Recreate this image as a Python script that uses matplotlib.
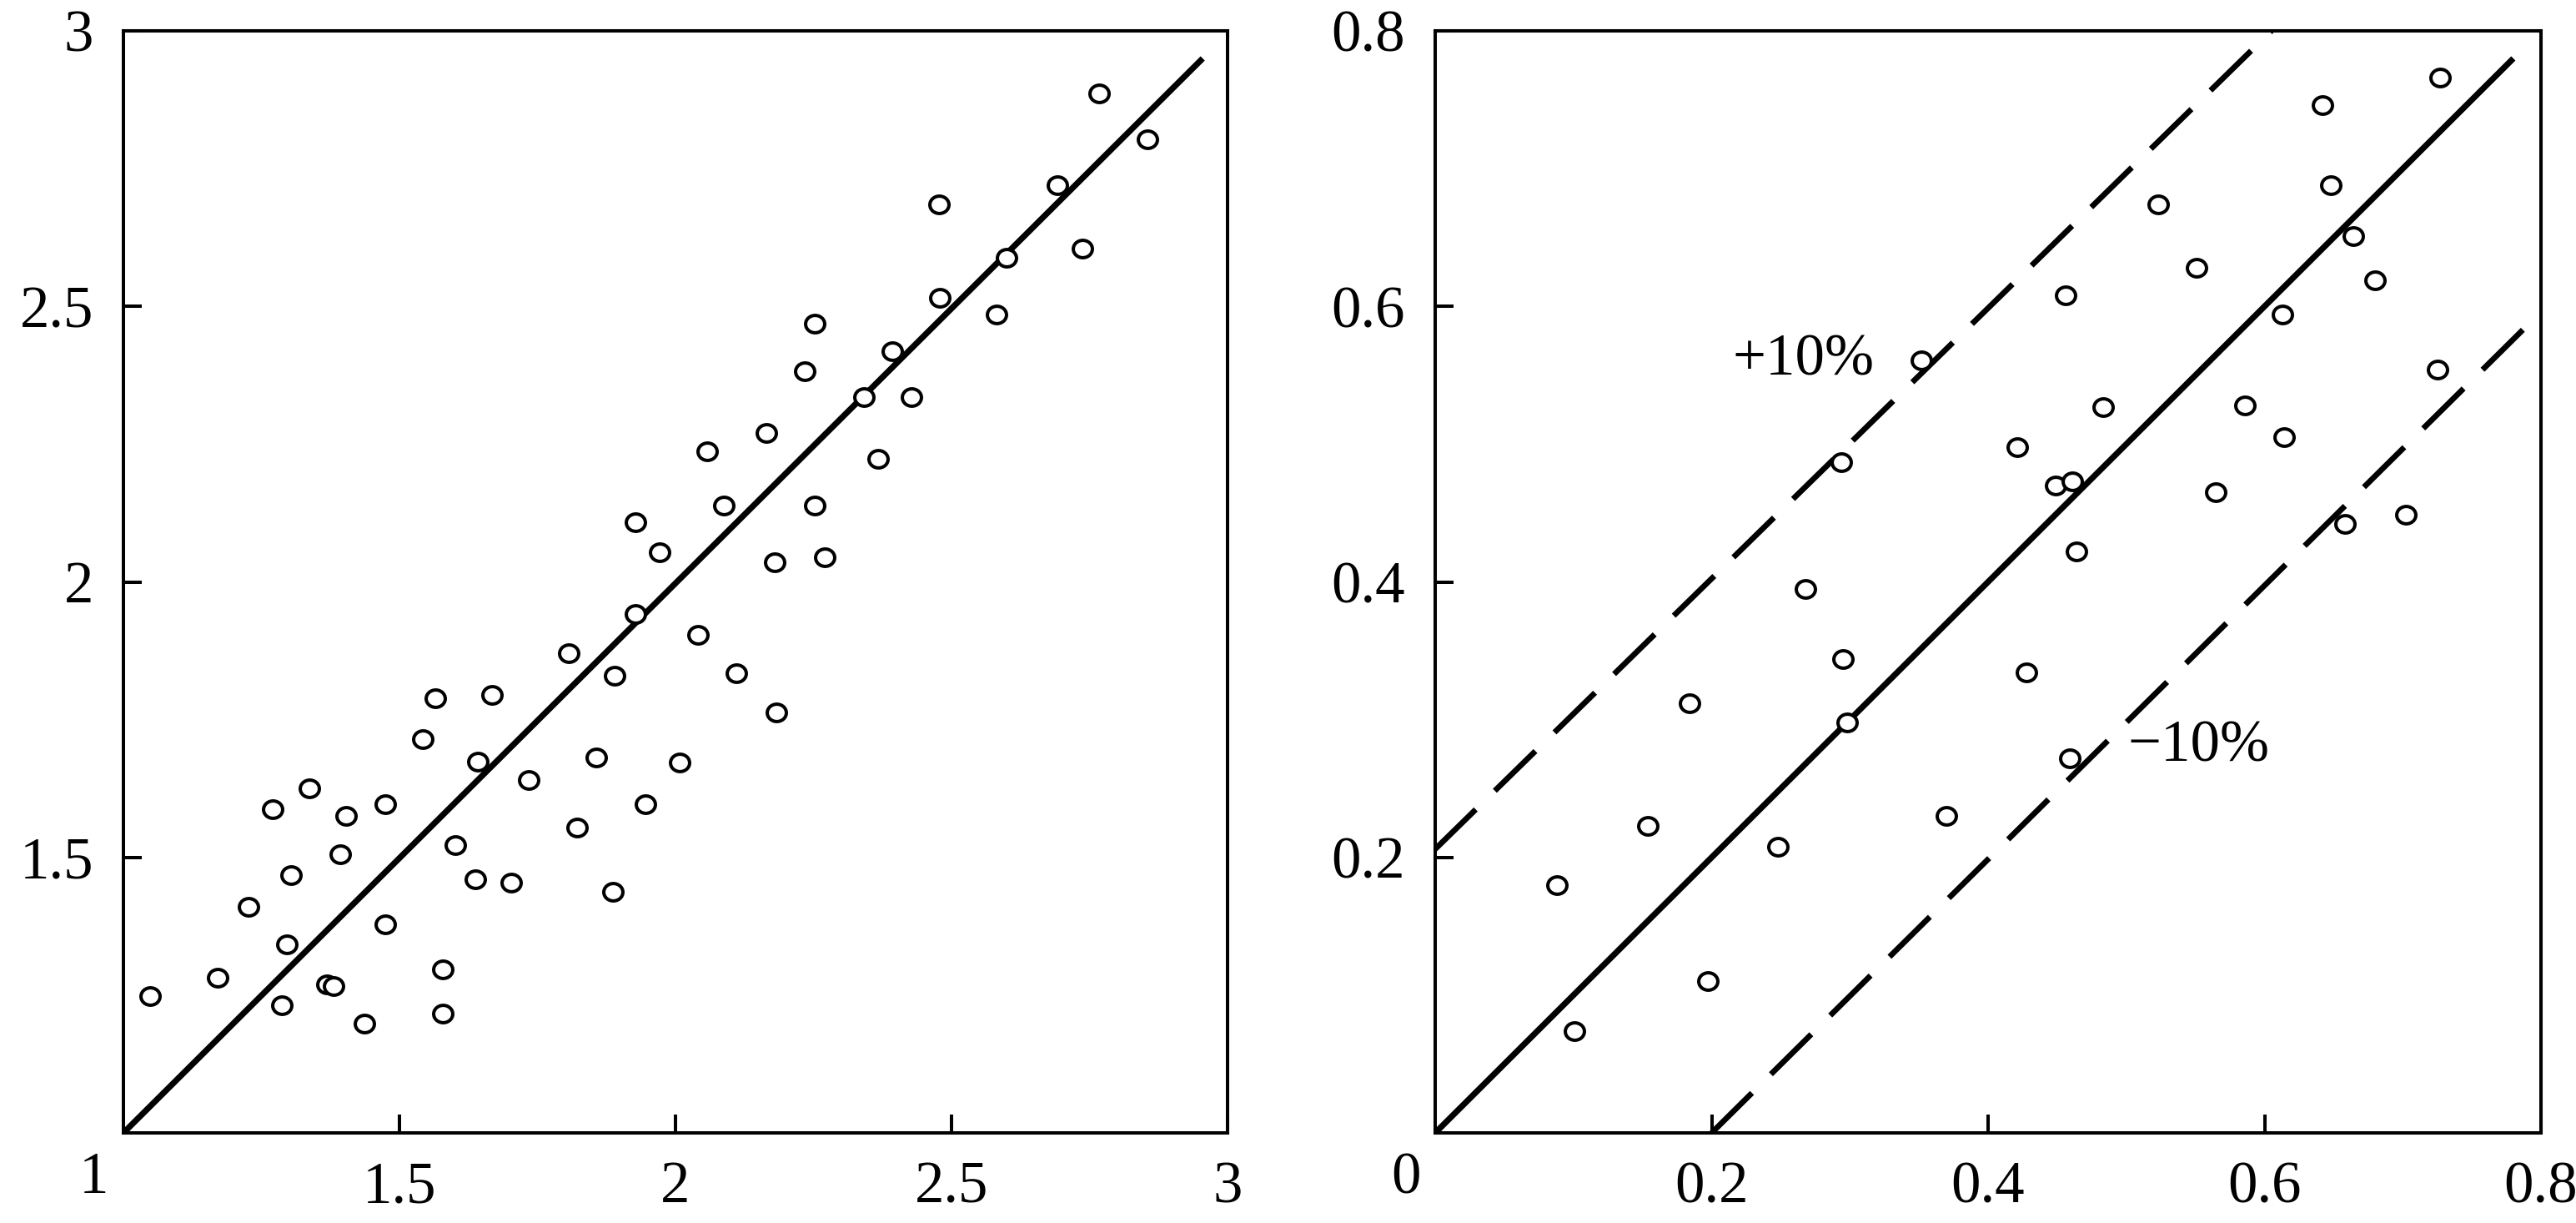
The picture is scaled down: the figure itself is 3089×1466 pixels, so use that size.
import numpy as np
import matplotlib
matplotlib.use("Agg")
import matplotlib.pyplot as plt
from matplotlib.path import Path
from matplotlib.transforms import Affine2D, offset_copy

plt.rcParams['font.family'] = ['Liberation Serif', 'DejaVu Serif']
plt.rcParams['font.size'] = 51

# left panel: scatter around the 1:1 line
left_x = [1.049, 1.171, 1.227, 1.296, 1.287, 1.304, 1.271, 1.337, 1.368, 1.381,
          1.393, 1.404, 1.474, 1.474, 1.437, 1.579, 1.579, 1.601, 1.638, 1.702,
          1.642, 1.543, 1.565, 1.668, 1.734, 1.806, 1.857, 1.821, 1.889, 1.928,
          1.946, 1.887, 2.007, 2.041, 2.111, 2.183, 1.928, 1.972,
          2.768, 2.855, 2.692, 2.737, 2.478, 2.600, 2.479, 2.581, 2.253, 2.393,
          2.234, 2.342, 2.428, 2.165, 2.057, 2.367, 2.087, 2.253, 2.180, 2.270]
left_y = [1.249, 1.282, 1.411, 1.342, 1.232, 1.468, 1.587, 1.625, 1.270, 1.266,
          1.506, 1.575, 1.597, 1.379, 1.199, 1.296, 1.217, 1.522, 1.461, 1.454,
          1.673, 1.714, 1.789, 1.795, 1.641, 1.871, 1.681, 1.554, 1.829, 1.941,
          1.597, 1.437, 1.672, 1.904, 1.834, 1.763, 2.108, 2.054,
          2.886, 2.803, 2.720, 2.605, 2.685, 2.588, 2.515, 2.485, 2.469, 2.418,
          2.382, 2.336, 2.336, 2.271, 2.237, 2.223, 2.139, 2.139, 2.035, 2.044]
left_fit_x = [1.0, 2.955]
left_fit_y = [1.0, 2.950]
left_ticks = [1.5, 2, 2.5, 3]
left_labels = ['1.5', '2', '2.5', '3']

# right panel: scatter with +-10% band
right_x = [0.352, 0.294, 0.268, 0.295, 0.298, 0.184, 0.154, 0.088, 0.248, 0.370,
           0.197, 0.101, 0.727, 0.642, 0.648, 0.523, 0.664, 0.551, 0.680, 0.456,
           0.613, 0.725, 0.483, 0.586, 0.421, 0.614, 0.449, 0.461, 0.565, 0.702,
           0.658, 0.464, 0.428, 0.459]
right_y = [0.561, 0.487, 0.395, 0.344, 0.298, 0.312, 0.223, 0.180, 0.208, 0.230,
           0.110, 0.074, 0.766, 0.746, 0.688, 0.674, 0.651, 0.628, 0.619, 0.608,
           0.594, 0.554, 0.527, 0.528, 0.498, 0.505, 0.470, 0.473, 0.465, 0.449,
           0.442, 0.422, 0.334, 0.272]
diag_x = [0.0, 0.78]
diag_y = [0.0, 0.78]
upper_x = [0.0, 0.605]
upper_y = [0.206, 0.800]
lower_x = [0.200, 0.800]
lower_y = [0.000, 0.596]
right_ticks = [0.2, 0.4, 0.6, 0.8]
right_labels = ['0.2', '0.4', '0.6', '0.8']

W, H = 3089, 1466
fig = plt.figure(figsize=(W / 100, H / 100), dpi=100)
ax1 = fig.add_axes([148 / W, 108 / H, 1324 / W, 1321 / H])
ax2 = fig.add_axes([1721 / W, 108 / H, 1326 / W, 1321 / H])

# slightly wide open circles like the scan
ring = Path.unit_circle().transformed(Affine2D().scale(1.1, 1.0))
mk = dict(ls='none', marker=ring, ms=16.5, mfc='white', mec='black', mew=2.9, zorder=3)


def style(ax, lo, hi, ticks, labels, corner, corner_x):
    ax.set_xlim(lo, hi)
    ax.set_ylim(lo, hi)
    for s in ax.spines.values():
        s.set_linewidth(2.9)
    ax.set_xticks(ticks)
    ax.set_xticklabels(labels)
    ax.set_yticks(ticks)
    ax.set_yticklabels(labels)
    ax.tick_params(direction='in', length=16, width=2.9)
    ax.tick_params(axis='x', pad=24)
    ax.tick_params(axis='y', pad=26)
    # origin label sits left of the corner, a bit higher than the others
    tr = offset_copy(ax.get_xaxis_transform(), fig=fig, y=-16, units='points')
    ax.text(corner_x, 0, corner, transform=tr, ha='center', va='top')


ax1.plot(left_fit_x, left_fit_y, color='black', lw=5.2, solid_capstyle='butt')
ax1.plot(left_x, left_y, **mk)
style(ax1, 1, 3, left_ticks, left_labels, '1', 0.947)

dash = (0, (10.0, 4.7))
ax2.plot(diag_x, diag_y, color='black', lw=5.2, solid_capstyle='butt')
ax2.plot(upper_x, upper_y, color='black', lw=4.9, ls=dash)
ax2.plot(lower_x, lower_y, color='black', lw=4.9, ls=dash)
ax2.plot(right_x, right_y, **mk)
ax2.text(0.215, 0.550, '+10%', ha='left', va='baseline')
ax2.text(0.501, 0.270, '\u221210%', ha='left', va='baseline')
style(ax2, 0, 0.8, right_ticks, right_labels, '0', -0.021)

fig.savefig('out.png', dpi=100)
